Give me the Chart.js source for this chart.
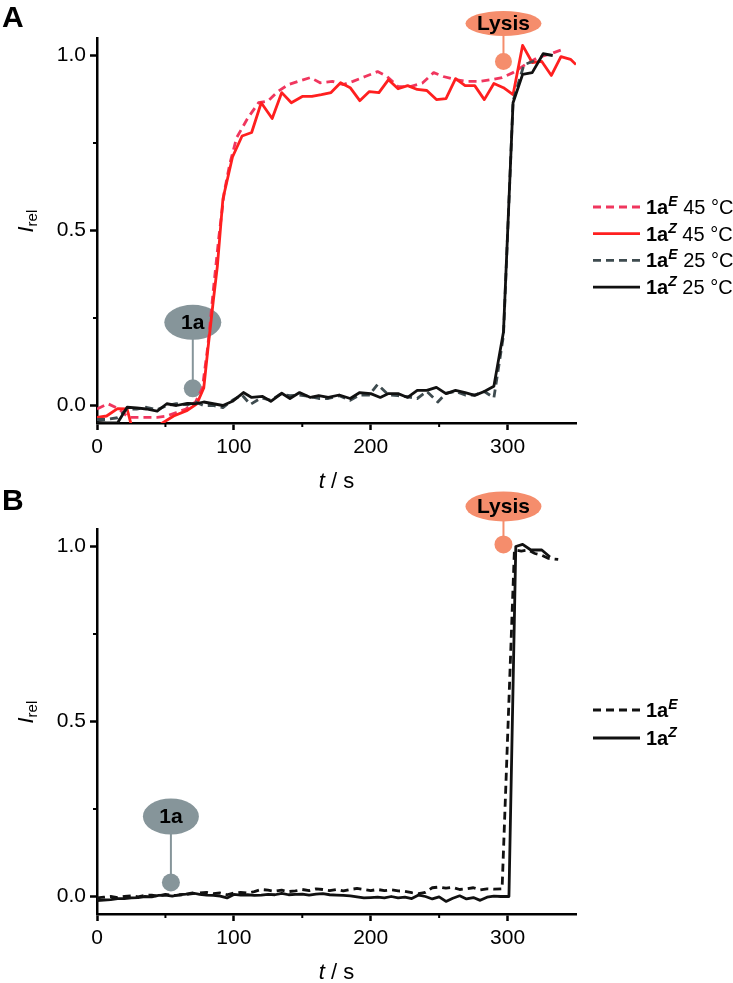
<!DOCTYPE html>
<html>
<head>
<meta charset="utf-8">
<script src="https://cdn.jsdelivr.net/npm/chart.js@4.4.0/dist/chart.umd.min.js"></script>
<style>
  html, body { margin: 0; padding: 0; background: #fff; }
  #wrap { position: relative; width: 733px; height: 983px; }
  canvas { position: absolute; left: 0; }
  #chartA { top: 0; }
  #chartB { top: 480px; }
</style>
</head>
<body>
<div id="wrap">
  <canvas id="chartA" width="733" height="490"></canvas>
  <canvas id="chartB" width="733" height="503"></canvas>
</div>
<script>
const FONT = "'Liberation Sans', Arial, Helvetica, sans-serif";

// ---- panel A ----
const tRedE = [0, 8, 16, 23, 30, 37, 44, 51, 58, 65, 72, 77, 81, 85, 89, 93, 97, 102, 110, 118, 125, 132, 140, 147, 156, 163, 172, 180, 187, 196, 205, 212, 220, 229, 238, 246, 253, 262, 270, 279, 288, 296, 304, 313, 322, 330, 340];
const redE = [-0.01, 0.005, -0.01, -0.034, -0.034, -0.034, -0.034, -0.03, -0.02, -0.01, 0.01, 0.05, 0.17, 0.33, 0.48, 0.61, 0.69, 0.765, 0.82, 0.865, 0.87, 0.897, 0.917, 0.926, 0.937, 0.922, 0.926, 0.917, 0.926, 0.94, 0.954, 0.94, 0.911, 0.911, 0.922, 0.951, 0.94, 0.931, 0.926, 0.926, 0.931, 0.937, 0.951, 0.974, 0.994, 1.003, 1.017];

const tRedZ = [0, 7, 15, 22, 26, 33, 40, 47, 56, 66, 73, 78, 81, 85, 88, 92, 99, 106, 113, 120, 128, 135, 142, 150, 157, 164, 171, 178, 185, 192, 199, 206, 213, 220, 227, 234, 241, 248, 255, 262, 269, 276, 283, 290, 297, 304, 311, 318, 325, 332, 339, 346, 350];
const redZ = [-0.034, -0.03, -0.009, -0.01, -0.07, -0.09, -0.09, -0.052, -0.03, -0.014, 0.005, 0.05, 0.16, 0.3, 0.4, 0.59, 0.71, 0.77, 0.78, 0.865, 0.82, 0.894, 0.865, 0.883, 0.883, 0.888, 0.894, 0.922, 0.908, 0.871, 0.897, 0.894, 0.931, 0.905, 0.914, 0.903, 0.9, 0.874, 0.877, 0.934, 0.914, 0.914, 0.874, 0.92, 0.908, 0.888, 1.029, 0.98, 0.983, 0.943, 0.997, 0.989, 0.974];

const tGrayE = [0, 7, 15, 22, 29, 36, 44, 51, 58, 66, 72, 78, 85, 92, 99, 106, 112, 120, 127, 134, 141, 148, 156, 162, 169, 177, 185, 192, 199, 205, 213, 220, 227, 234, 241, 249, 255, 262, 269, 276, 283, 290, 297, 304, 312, 320];
const grayE = [-0.04, -0.04, -0.035, -0.01, -0.01, -0.005, -0.012, 0.0, 0.005, 0.002, 0.01, 0.0, 0.0, -0.006, 0.015, 0.03, 0.003, 0.022, 0.015, 0.032, 0.028, 0.03, 0.025, 0.02, 0.02, 0.028, 0.015, 0.03, 0.03, 0.06, 0.03, 0.028, 0.025, 0.02, 0.04, 0.01, 0.035, 0.04, 0.03, 0.03, 0.04, 0.022, 0.2, 0.87, 0.974, 0.985];

const tBlackZ = [0, 7, 15, 22, 29, 36, 44, 51, 58, 66, 72, 78, 85, 92, 99, 107, 113, 121, 127, 135, 141, 148, 156, 162, 169, 177, 185, 192, 200, 207, 213, 220, 227, 234, 241, 248, 255, 262, 269, 276, 283, 290, 297, 304, 311, 318, 326, 333];
const blackZ = [-0.048, -0.05, -0.05, -0.005, -0.007, -0.01, -0.016, 0.005, 0.0, 0.006, 0.005, 0.01, 0.005, 0.0, 0.012, 0.037, 0.023, 0.026, 0.012, 0.035, 0.02, 0.037, 0.023, 0.028, 0.023, 0.03, 0.02, 0.037, 0.034, 0.023, 0.034, 0.034, 0.023, 0.043, 0.043, 0.052, 0.034, 0.043, 0.037, 0.029, 0.04, 0.055, 0.21, 0.865, 0.946, 0.951, 1.005, 1.0];

// ---- panel B ----
const tBE = [0, 5, 10, 15, 20, 25, 30, 35, 40, 45, 50, 55, 60, 65, 70, 75, 80, 85, 90, 95, 100, 105, 110, 115, 120, 125, 130, 135, 140, 145, 150, 155, 160, 165, 170, 175, 180, 185, 190, 195, 200, 205, 210, 215, 220, 225, 230, 235, 240, 245, 250, 255, 260, 265, 270, 275, 280, 285, 290, 296, 305, 310, 315, 320, 325, 330, 337];
const bE = [-0.004, -0.002, 0.0, -0.003, 0.0, 0.002, -0.001, 0.003, 0.004, 0.001, 0.006, 0.003, 0.004, 0.006, 0.008, 0.01, 0.012, 0.008, 0.01, 0.005, 0.01, 0.012, 0.01, 0.014, 0.02, 0.018, 0.015, 0.018, 0.014, 0.016, 0.02, 0.017, 0.022, 0.02, 0.017, 0.02, 0.016, 0.02, 0.023, 0.02, 0.017, 0.02, 0.017, 0.019, 0.016, 0.015, 0.011, 0.008, 0.012, 0.025, 0.027, 0.024, 0.026, 0.02, 0.022, 0.025, 0.019, 0.022, 0.021, 0.022, 0.99, 0.987, 0.99, 0.98, 0.975, 0.966, 0.963];

const tBZ = [0, 5, 10, 15, 20, 25, 30, 35, 40, 45, 50, 55, 60, 65, 70, 75, 80, 85, 90, 95, 100, 105, 110, 115, 120, 125, 130, 135, 140, 145, 150, 155, 160, 165, 170, 175, 180, 185, 190, 195, 200, 205, 210, 215, 220, 225, 230, 235, 240, 245, 250, 255, 260, 265, 270, 275, 280, 285, 290, 295, 301, 306, 311, 317, 325, 331];
const bZ = [-0.012, -0.01, -0.009, -0.006, -0.006, -0.004, -0.003, 0.0, -0.001, 0.003, 0.004, 0.001, 0.005, 0.007, 0.01, 0.006, 0.004, 0.003, 0.001, -0.004, 0.006, 0.004, 0.005, 0.003, 0.004, 0.006, 0.005, 0.009, 0.005, 0.006, 0.007, 0.004, 0.007, 0.008, 0.005, 0.004, 0.003, 0.002, -0.001, -0.004, -0.003, -0.002, -0.004, 0.0, -0.004, -0.002, -0.006, 0.004, 0.0, -0.007, -0.001, -0.014, -0.005, 0.002, -0.007, -0.003, -0.011, -0.002, 0.001, 0.0, 0.0, 1.0, 1.006, 0.99, 0.99, 0.97];

// axes
const xTicks = [0, 100, 200, 300];
const xMinor = [50, 150, 250];
const yTicks = [0, 0.5, 1];
const yMinor = [0.25, 0.75];

// legend text: [bold part, superscript, rest]
const legendA = [['1a', 'E', ' 45 °C'], ['1a', 'Z', ' 45 °C'], ['1a', 'E', ' 25 °C'], ['1a', 'Z', ' 25 °C']];
const legendB = [['1a', 'E', ''], ['1a', 'Z', '']];

// annotation anchors (data coords of the dot)
const lysisA = [297, 0.983];
const compA = [70, 0.049];
const lysisB = [297, 1.006];
const compB = [54, 0.04];

const pts = (ts, vs) => ts.map((t, i) => ({ x: t, y: vs[i] }));

function rich(ctx, x, y, parts) {
  parts.forEach(p => {
    ctx.font = p[1];
    ctx.fillText(p[0], x, y + (p[2] || 0));
    x += ctx.measureText(p[0]).width;
  });
  return x;
}
function richWidth(ctx, parts) {
  let w = 0;
  parts.forEach(p => { ctx.font = p[1]; w += ctx.measureText(p[0]).width; });
  return w;
}

function decoPlugin(o) {
  return {
    id: 'deco',
    beforeDatasetsDraw(chart) {
      const ctx = chart.ctx, xs = chart.scales.x, ys = chart.scales.y;
      ctx.save();
      o.marks.forEach(m => {
        const cx = xs.getPixelForValue(m.at[0]), cy = ys.getPixelForValue(m.at[1]);
        const ey = cy - m.lift;
        ctx.strokeStyle = m.color; ctx.fillStyle = m.color; ctx.lineWidth = 2;
        ctx.beginPath(); ctx.moveTo(cx, cy); ctx.lineTo(cx, ey); ctx.stroke();
        ctx.beginPath(); ctx.arc(cx, cy, m.r, 0, Math.PI * 2); ctx.fill();
        ctx.beginPath(); ctx.ellipse(cx, ey, m.rx, m.ry, 0, 0, Math.PI * 2); ctx.fill();
        ctx.fillStyle = '#000'; ctx.font = 'bold 21px ' + FONT;
        ctx.textAlign = 'center'; ctx.textBaseline = 'middle';
        ctx.fillText(m.text, cx, ey + 1);
      });
      ctx.restore();
    },
    afterDraw(chart) {
      const ctx = chart.ctx, xs = chart.scales.x, ys = chart.scales.y, ca = chart.chartArea;
      ctx.save();
      // minor ticks
      ctx.strokeStyle = '#000'; ctx.lineWidth = 2;
      xMinor.forEach(v => {
        const px = xs.getPixelForValue(v);
        ctx.beginPath(); ctx.moveTo(px, ca.bottom); ctx.lineTo(px, ca.bottom + 4); ctx.stroke();
      });
      yMinor.forEach(v => {
        const py = ys.getPixelForValue(v);
        ctx.beginPath(); ctx.moveTo(ca.left - 4, py); ctx.lineTo(ca.left, py); ctx.stroke();
      });
      ctx.fillStyle = '#000'; ctx.textAlign = 'left'; ctx.textBaseline = 'alphabetic';
      // x title
      const xt = [['t', 'italic 22px ' + FONT], [' / s', '22px ' + FONT]];
      rich(ctx, (ca.left + ca.right) / 2 - richWidth(ctx, xt) / 2, ca.bottom + 65, xt);
      // y title
      ctx.save();
      ctx.translate(33, ys.getPixelForValue(0.5) + 2);
      ctx.rotate(-Math.PI / 2);
      rich(ctx, 0, 0, [['I', 'italic 22px ' + FONT], ['rel', '15px ' + FONT, 4]]);
      ctx.restore();
      // panel letter
      ctx.font = 'bold 30px ' + FONT;
      ctx.fillText(o.letter, 2, o.letterY);
      // legend
      o.legend.forEach((lab, i) => {
        const ds = chart.data.datasets[o.legendIdx[i]];
        const y = o.legendY + i * o.legendStep;
        ctx.strokeStyle = ds.borderColor; ctx.lineWidth = ds.borderWidth;
        ctx.setLineDash(ds.borderDash || []);
        ctx.beginPath(); ctx.moveTo(593, y); ctx.lineTo(640, y); ctx.stroke();
        ctx.setLineDash([]);
        ctx.fillStyle = '#000';
        rich(ctx, 646, y + 7, [
          [lab[0], 'bold 20px ' + FONT],
          [lab[1], 'bold italic 14px ' + FONT, -8],
          [lab[2], '20px ' + FONT]
        ]);
      });
      ctx.restore();
    }
  };
}

function makeChart(id, datasets, plugin, padTop, xHeight) {
  return new Chart(document.getElementById(id), {
    type: 'line',
    data: { datasets },
    options: {
      responsive: false,
      animation: false,
      layout: { padding: { left: 0, top: padTop, right: 157, bottom: 0 } },
      plugins: { legend: { display: false }, tooltip: { enabled: false } },
      elements: { point: { radius: 0 }, line: { tension: 0, borderJoinStyle: 'round' } },
      scales: {
        x: {
          type: 'linear', min: 0, max: 350,
          afterFit: s => { s.height = xHeight; },
          afterBuildTicks: s => { s.ticks = xTicks.map(v => ({ value: v })); },
          border: { display: true, color: '#000', width: 2.5 },
          grid: { drawOnChartArea: false, drawTicks: true, tickLength: 7, tickWidth: 2.5, tickColor: '#000' },
          ticks: { color: '#000', font: { family: FONT, size: 21 }, padding: 5, maxRotation: 0, callback: v => String(v) }
        },
        y: {
          type: 'linear', min: -0.05, max: 1.05,
          afterFit: s => { s.width = 97; },
          afterBuildTicks: s => { s.ticks = yTicks.map(v => ({ value: v })); },
          border: { display: true, color: '#000', width: 2.5 },
          grid: { drawOnChartArea: false, drawTicks: true, tickLength: 7, tickWidth: 2.5, tickColor: '#000' },
          ticks: { color: '#000', font: { family: FONT, size: 21 }, padding: 4, callback: v => v.toFixed(1) }
        }
      }
    },
    plugins: [plugin]
  });
}

const dsA = [
  { data: pts(tRedE, redE), borderColor: '#F0365E', borderWidth: 2.8, borderDash: [8, 5], order: 3 },
  { data: pts(tRedZ, redZ), borderColor: '#FF1F1F', borderWidth: 2.8, order: 2 },
  { data: pts(tGrayE, grayE), borderColor: '#3E4B4F', borderWidth: 2.8, borderDash: [8, 5], order: 1 },
  { data: pts(tBlackZ, blackZ), borderColor: '#111111', borderWidth: 2.8, order: 0 }
];
const dsB = [
  { data: pts(tBE, bE), borderColor: '#111111', borderWidth: 2.8, borderDash: [8, 5], order: 1 },
  { data: pts(tBZ, bZ), borderColor: '#111111', borderWidth: 2.8, order: 0 }
];

makeChart('chartA', dsA, decoPlugin({
  letter: 'A', letterY: 27,
  legend: legendA, legendIdx: [0, 1, 2, 3], legendY: 207, legendStep: 26.7,
  marks: [
    { at: lysisA, text: 'Lysis', color: '#F58D6C', lift: 38, r: 8.5, rx: 38, ry: 12.5 },
    { at: compA, text: '1a', color: '#86959A', lift: 66, r: 9, rx: 28.5, ry: 17.5 }
  ]
}), 38, 67);

makeChart('chartB', dsB, decoPlugin({
  letter: 'B', letterY: 30,
  legend: legendB, legendIdx: [0, 1], legendY: 230, legendStep: 28,
  marks: [
    { at: lysisB, text: 'Lysis', color: '#F58D6C', lift: 38, r: 9, rx: 38, ry: 15 },
    { at: compB, text: '1a', color: '#86959A', lift: 66, r: 9, rx: 28, ry: 18 }
  ]
}), 49, 69);
</script>
</body>
</html>
